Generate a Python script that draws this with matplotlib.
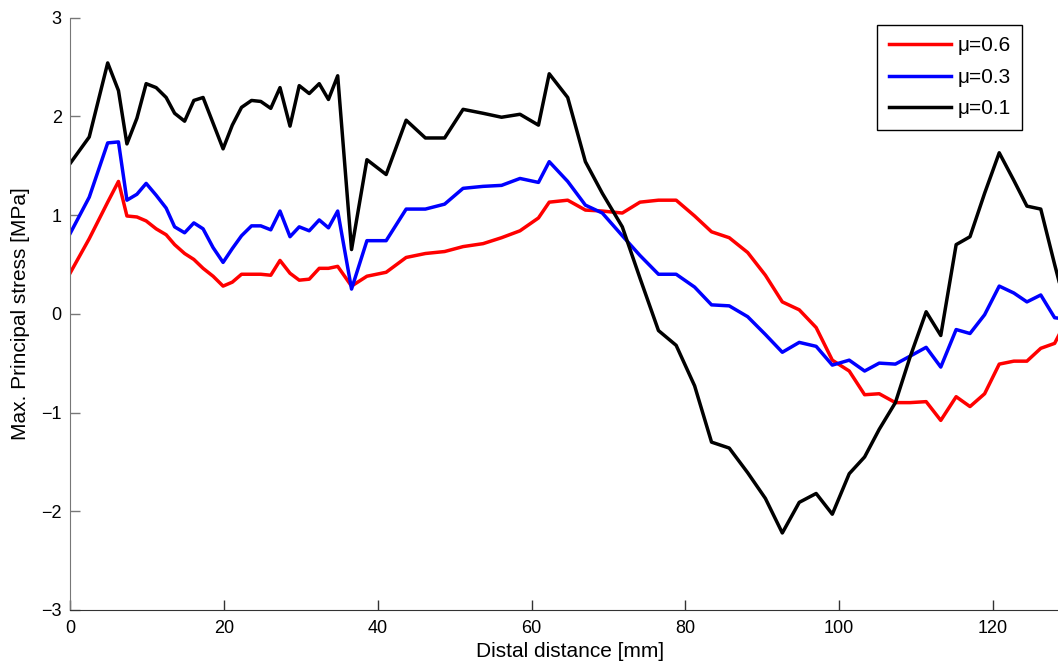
import numpy as np
import matplotlib
matplotlib.use("Agg")
import matplotlib.pyplot as plt

plt.rcParams['font.family'] = ['Liberation Sans', 'DejaVu Sans']

# distal distance of the nodes [mm]
x = [0, 2.5, 4.9, 6.3, 7.4, 8.7, 9.9, 11.2, 12.5, 13.6, 14.9, 16.1, 17.3, 18.6,
     19.9, 21.1, 22.3, 23.6, 24.8, 26.1, 27.3, 28.6, 29.8, 31.1, 32.4, 33.6, 34.8,
     36.6, 38.6, 41.1, 43.7, 46.2, 48.7, 51.1, 53.7, 56.1, 58.5, 60.9, 62.3, 64.7,
     67.0, 69.2, 71.8, 74.1, 76.5, 78.8, 81.2, 83.4, 85.7, 88.1, 90.4, 92.6, 94.8,
     97.0, 99.1, 101.3, 103.3, 105.2, 107.3, 109.2, 111.3, 113.2, 115.2, 117.0,
     118.9, 120.8, 122.7, 124.4, 126.2, 128.0, 130.0]

# max principal stress [MPa] for each friction coefficient
mu06 = [0.41, 0.76, 1.13, 1.34, 0.99, 0.98, 0.94, 0.86, 0.80, 0.70, 0.61, 0.55, 0.46, 0.38,
        0.28, 0.32, 0.40, 0.40, 0.40, 0.39, 0.54, 0.41, 0.34, 0.35, 0.46, 0.46, 0.48,
        0.28, 0.38, 0.42, 0.57, 0.61, 0.63, 0.68, 0.71, 0.77, 0.84, 0.97, 1.13, 1.15,
        1.05, 1.04, 1.02, 1.13, 1.15, 1.15, 0.99, 0.83, 0.77, 0.62, 0.39, 0.12, 0.04,
        -0.14, -0.47, -0.58, -0.82, -0.81, -0.90, -0.90, -0.89, -1.08, -0.84, -0.94,
        -0.81, -0.51, -0.48, -0.48, -0.35, -0.30, 0.0]
mu03 = [0.81, 1.18, 1.73, 1.74, 1.15, 1.21, 1.32, 1.20, 1.07, 0.88, 0.82, 0.92, 0.86, 0.67,
        0.52, 0.66, 0.79, 0.89, 0.89, 0.85, 1.04, 0.78, 0.88, 0.84, 0.95, 0.87, 1.04,
        0.25, 0.74, 0.74, 1.06, 1.06, 1.11, 1.27, 1.29, 1.30, 1.37, 1.33, 1.54, 1.34,
        1.10, 1.02, 0.79, 0.59, 0.40, 0.40, 0.27, 0.09, 0.08, -0.03, -0.21, -0.39, -0.29,
        -0.33, -0.52, -0.47, -0.58, -0.50, -0.51, -0.43, -0.34, -0.54, -0.16, -0.20,
        -0.01, 0.28, 0.21, 0.12, 0.19, -0.04, -0.06]
mu01 = [1.52, 1.79, 2.54, 2.26, 1.72, 1.98, 2.33, 2.29, 2.19, 2.03, 1.95, 2.16, 2.19, 1.93,
        1.67, 1.91, 2.09, 2.16, 2.15, 2.08, 2.29, 1.90, 2.31, 2.23, 2.33, 2.17, 2.41,
        0.65, 1.56, 1.41, 1.96, 1.78, 1.78, 2.07, 2.03, 1.99, 2.02, 1.91, 2.43, 2.19,
        1.54, 1.22, 0.88, 0.36, -0.17, -0.32, -0.73, -1.30, -1.36, -1.61, -1.87, -2.22, -1.91,
        -1.82, -2.03, -1.62, -1.45, -1.17, -0.90, -0.44, 0.02, -0.22, 0.70, 0.78,
        1.22, 1.63, 1.35, 1.09, 1.06, 0.50, -0.10]

fig = plt.figure(figsize=(10.58, 6.64), dpi=100)
ax = fig.add_axes([70 / 1058, 54 / 664, 1000 / 1058, 592.5 / 664])

ax.plot(x, mu06, color='red', lw=2.5, label='μ=0.6')
ax.plot(x, mu03, color='blue', lw=2.5, label='μ=0.3')
ax.plot(x, mu01, color='black', lw=2.5, label='μ=0.1')

ax.set_xlim(0, 130)
ax.set_ylim(-3, 3)
ax.set_xticks(np.arange(0, 121, 20))
ax.set_yticks(np.arange(-3, 4, 1))

# box off, ticks pointing inwards
ax.spines['top'].set_visible(False)
ax.spines['right'].set_visible(False)
ax.spines['left'].set_color('#777777')
ax.spines['bottom'].set_color('#333333')
ax.tick_params(direction='in', length=7, width=1, labelsize=13)
ax.tick_params(axis='y', colors='#777777', labelcolor='black', pad=6)
ax.tick_params(axis='x', colors='#333333', labelcolor='black', pad=7)

ax.set_xlabel('Distal distance [mm]', fontsize=15, labelpad=4)
ax.set_ylabel('Max. Principal stress [MPa]', fontsize=15, labelpad=8)

leg = ax.legend(loc='upper right', bbox_to_anchor=(1022 / 1058, 1 - 25 / 664),
                bbox_transform=fig.transFigure, borderaxespad=0, fontsize=15,
                fancybox=False, framealpha=1, edgecolor='black',
                handlelength=3.0, handletextpad=0.3, labelspacing=0.6,
                borderpad=0.55)
leg.get_frame().set_linewidth(1.0)

fig.savefig('out.png', dpi=100)
